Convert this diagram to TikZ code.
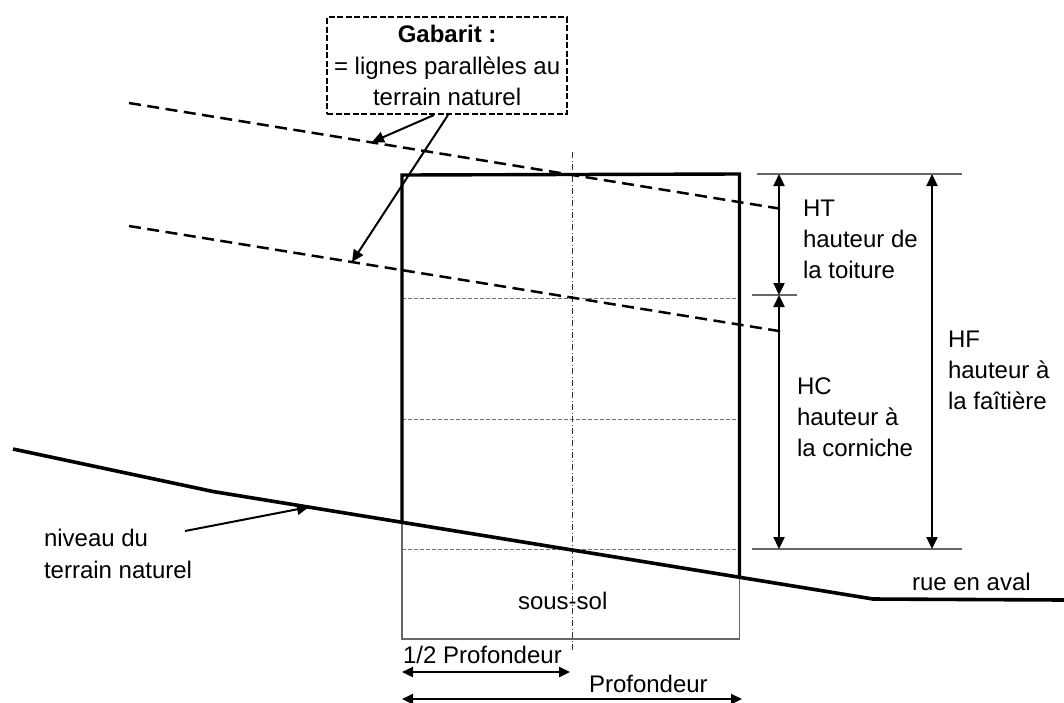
\documentclass[tikz,border=0pt]{standalone}
\usepackage{fontspec}
\setmainfont{Liberation Sans}
\usetikzlibrary{arrows.meta}
\tikzset{
  lbl/.style={inner sep=0pt,outer sep=0pt,font=\fontsize{24}{31.3}\selectfont,align=left,anchor=north west,text=black},
  thick3/.style={line width=3.6pt,black},
  wall/.style={line width=3.4pt,black,line cap=square},
  gab/.style={line width=2.5pt,black,dash pattern=on 12pt off 6.5pt},
  floorline/.style={line width=1pt,black!55,dash pattern=on 4pt off 2pt},
  thinline/.style={line width=1.1pt,black!60},
  axis/.style={line width=1pt,black!80,dash pattern=on 6pt off 2.5pt on 1pt off 2.5pt},
  dim/.style={line width=2.3pt,black,{Triangle[length=12pt,width=11pt]}-{Triangle[length=12pt,width=11pt]}},
  hdim/.style={line width=2.3pt,black,{Triangle[length=11pt,width=10pt]}-{Triangle[length=11pt,width=10pt]}},
  ptr/.style={line width=2pt,black,-{Triangle[length=12pt,width=11pt]}}
}
\begin{document}
\begin{tikzpicture}[x=1pt,y=-1pt]
\useasboundingbox (0,0) rectangle (1064,702);
% named points
\coordinate (tA) at (13,449); \coordinate (tB) at (213,491.5); \coordinate (tC) at (873,599); \coordinate (tD) at (1064,600);
\coordinate (bTL) at (402,175); \coordinate (bTR) at (739.5,174); \coordinate (bL) at (402,522); \coordinate (bR) at (739.5,577);
\coordinate (sBL) at (402,639); \coordinate (sBR) at (739.5,639);
\coordinate (g1a) at (129,103); \coordinate (g1b) at (785,209.5);
\coordinate (g2a) at (129,226); \coordinate (g2b) at (785,332);
\coordinate (p1) at (372,142); \coordinate (p2) at (352,262);
\coordinate (f1a) at (402,298); \coordinate (f1b) at (739.5,298);
\coordinate (f2a) at (402,419); \coordinate (f2b) at (739.5,419);
\coordinate (f3a) at (402,549); \coordinate (f3b) at (739.5,549);
\coordinate (axT) at (572,152); \coordinate (axB) at (572,650);
\coordinate (rT1) at (757,174); \coordinate (rT2) at (962,174);
\coordinate (rM1) at (752,295); \coordinate (rM2) at (797,295);
\coordinate (rB1) at (752,549); \coordinate (rB2) at (962,549);
\coordinate (htT) at (779,174); \coordinate (htB) at (779,295); \coordinate (hcB) at (779,549);
\coordinate (hfT) at (932,174); \coordinate (hfB) at (932,549);
\coordinate (d1a) at (402,672); \coordinate (d1b) at (570,672);
\coordinate (d2a) at (402,699); \coordinate (d2b) at (742,699);
\coordinate (nivA) at (185,531); \coordinate (nivB) at (309,507);
% thin lines
\draw[thinline] (bR) -- (sBR) -- (sBL) -- (bL);
\draw[floorline] (f1a) -- (f1b);
\draw[floorline] (f2a) -- (f2b);
\draw[floorline] (f3a) -- (f3b);
\draw[axis] (axT) -- (axB);
\draw[thinline] (rT1) -- (rT2);
\draw[thinline] (rM1) -- (rM2);
\draw[thinline] (rB1) -- (rB2);
% gabarit
\draw[gab] (g1a) -- (g1b);
\draw[gab] (g2a) -- (g2b);
% building and ground
\draw[wall] (bL) -- (bTL) -- (bTR) -- (bR);
\draw[thick3] (tA) -- (tB) -- (tC) -- (tD);
% dimensions
\draw[dim] (htT) -- (htB);
\draw[dim] (htB) -- (hcB);
\draw[dim] (hfT) -- (hfB);
\draw[hdim] (d1a) -- (d1b);
\draw[hdim] (d2a) -- (d2b);
% box
\node[draw=black,line width=2.2pt,dash pattern=on 6pt off 2.5pt,fill=white,inner sep=0pt,minimum width=240pt,minimum height=97pt,anchor=north west,align=center,font=\fontsize{24}{31.5}\selectfont] (box) at (326,16) {\textbf{Gabarit :}\\= lignes parallèles au\\terrain naturel};
\coordinate (bx1) at (434,115); \coordinate (bx2) at (448,115);
\draw[ptr] (bx1) -- (p1);
\draw[ptr] (bx2) -- (p2);
\draw[ptr] (nivA) -- (nivB);
% labels
\node[lbl] (ht) at (803,199.5) {HT\\hauteur de\\la toiture};
\node[lbl] (hc) at (797,377.5) {HC\\hauteur à\\la corniche};
\node[lbl] (hf) at (948,330.5) {HF\\hauteur à\\la faîtière};
\node[lbl] (niv) at (44,529.5) {niveau du\\terrain naturel};
\node[lbl] (sous) at (518,592.5) {sous-sol};
\node[lbl] (demi) at (403,646.5) {1/2 Profondeur};
\node[lbl] (prof) at (589,675.5) {Profondeur};
\node[lbl] (rue) at (912,573.5) {rue en aval};
\end{tikzpicture}
\end{document}
